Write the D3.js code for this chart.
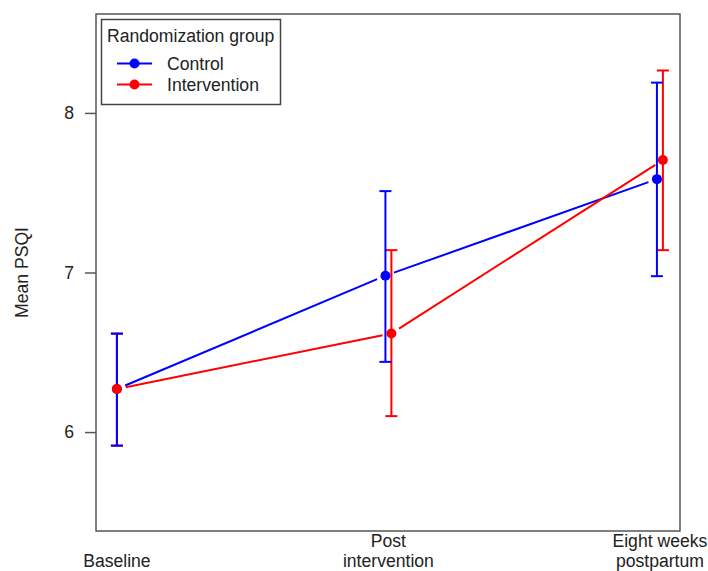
<!DOCTYPE html>
<html>
<head>
<meta charset="utf-8">
<script src="https://cdn.jsdelivr.net/npm/d3@7"></script>
<style>
  body { margin: 0; background: #fff; }
  svg text { font-family: "Liberation Sans", Arial, sans-serif; fill: #222; }
</style>
</head>
<body>
<svg id="chart" width="708" height="571"></svg>
<script>
// time points and group means with 95% CI
var timePoints = ["Baseline", "Post\nintervention", "Eight weeks\npostpartum"];
var groups = ["Control", "Intervention"];
var groupColors = ["#0000ff", "#ff0000"];
var dodge = [[0, -0.011, -0.011], [0, 0.011, 0.011]]; // small x shift so bars don't overlap

var controlMean  = [6.27, 6.98, 7.585];
var controlLow   = [5.915, 6.44, 6.977];
var controlHigh  = [6.617, 7.51, 8.19];

var interventionMean = [6.27, 6.618, 7.705];
var interventionLow  = [5.915, 6.10, 7.14];
var interventionHigh = [6.617, 7.14, 8.266];

var yTicks = [6, 7, 8];

var series = [
  {name: groups[0], color: groupColors[0], mean: controlMean, lo: controlLow, hi: controlHigh, dx: dodge[0]},
  {name: groups[1], color: groupColors[1], mean: interventionMean, lo: interventionLow, hi: interventionHigh, dx: dodge[1]}
];

var fs = 17.6;
var svg = d3.select("#chart");
var plotL = 96, plotR = 680, plotT = 14, plotB = 531;

var x = d3.scaleLinear().domain([0.923, 3.074]).range([plotL, plotR]);
var y = d3.scaleLinear().domain([5.38, 8.62]).range([plotB, plotT]);

// y axis: ticks on the left
var yAxis = svg.append("g")
  .attr("transform", "translate(" + plotL + ",0)")
  .call(d3.axisLeft(y).tickValues(yTicks).tickSize(11).tickPadding(11).tickFormat(d3.format("d")));
yAxis.select(".domain").remove();
yAxis.selectAll("line").attr("stroke", "#555").attr("stroke-width", 1.5);
yAxis.selectAll("text").attr("font-size", fs).attr("fill", "#222").attr("font-family", "Liberation Sans, Arial, sans-serif");

svg.append("text")
  .attr("transform", "translate(28," + ((plotT + plotB) / 2) + ") rotate(-90)")
  .attr("text-anchor", "middle")
  .attr("font-size", fs)
  .text("Mean PSQI");

// x labels (multi-line, bottom aligned)
timePoints.forEach(function(lab, i) {
  var lines = lab.split("\n");
  var t = svg.append("text")
    .attr("text-anchor", "middle")
    .attr("font-size", fs);
  lines.forEach(function(l, j) {
    t.append("tspan")
      .attr("x", x(i + 1))
      .attr("y", 566.5 - (lines.length - 1 - j) * 20)
      .text(l);
  });
});

var gap = 9, cap = 6;
series.forEach(function(s) {
  s.pts = s.mean.map(function(m, i) { return [x(i + 1 + s.dx[i]), y(m)]; });
});

var gBars = svg.append("g"), gLines = svg.append("g"), gPts = svg.append("g");

// error bars: red first so blue sits on top at baseline
series.slice().reverse().forEach(function(s) {
  s.mean.forEach(function(m, i) {
    var px = s.pts[i][0];
    gBars.append("line").attr("x1", px).attr("x2", px).attr("y1", y(s.lo[i])).attr("y2", y(s.hi[i]))
      .attr("stroke", s.color).attr("stroke-width", 2);
    [s.lo[i], s.hi[i]].forEach(function(v) {
      gBars.append("line").attr("x1", px - cap).attr("x2", px + cap).attr("y1", y(v)).attr("y2", y(v))
        .attr("stroke", s.color).attr("stroke-width", 2);
    });
  });
});

series.forEach(function(s) {
  // connecting lines with a gap around each point (type = "b")
  var pts = s.pts;
  for (var i = 0; i < pts.length - 1; i++) {
    var a = pts[i], b = pts[i + 1];
    var dx = b[0] - a[0], dy = b[1] - a[1], len = Math.sqrt(dx * dx + dy * dy);
    var ux = dx / len, uy = dy / len;
    gLines.append("line")
      .attr("x1", a[0] + ux * gap).attr("y1", a[1] + uy * gap)
      .attr("x2", b[0] - ux * gap).attr("y2", b[1] - uy * gap)
      .attr("stroke", s.color).attr("stroke-width", 2);
  }

  gPts.selectAll("circle." + s.name).data(pts).enter().append("circle")
    .attr("class", s.name)
    .attr("cx", function(d) { return d[0]; })
    .attr("cy", function(d) { return d[1]; })
    .attr("r", 5)
    .attr("fill", s.color);
});

// plot box
svg.append("rect")
  .attr("x", plotL).attr("y", plotT).attr("width", plotR - plotL).attr("height", plotB - plotT)
  .attr("fill", "none").attr("stroke", "#555").attr("stroke-width", 1.5);

// legend
var leg = svg.append("g");
leg.append("rect").attr("x", 101.5).attr("y", 19.5).attr("width", 179).attr("height", 85)
  .attr("fill", "#fff").attr("stroke", "#444").attr("stroke-width", 1.5);
leg.append("text").attr("x", 107).attr("y", 42).attr("font-size", fs).text("Randomization group");
series.forEach(function(s, i) {
  var ly = 63.5 + i * 21;
  leg.append("line").attr("x1", 117).attr("x2", 152).attr("y1", ly).attr("y2", ly)
    .attr("stroke", s.color).attr("stroke-width", 2);
  leg.append("circle").attr("cx", 134.5).attr("cy", ly).attr("r", 5).attr("fill", s.color);
  leg.append("text").attr("x", 167).attr("y", ly + 6).attr("font-size", fs).text(s.name);
});
</script>
</body>
</html>
